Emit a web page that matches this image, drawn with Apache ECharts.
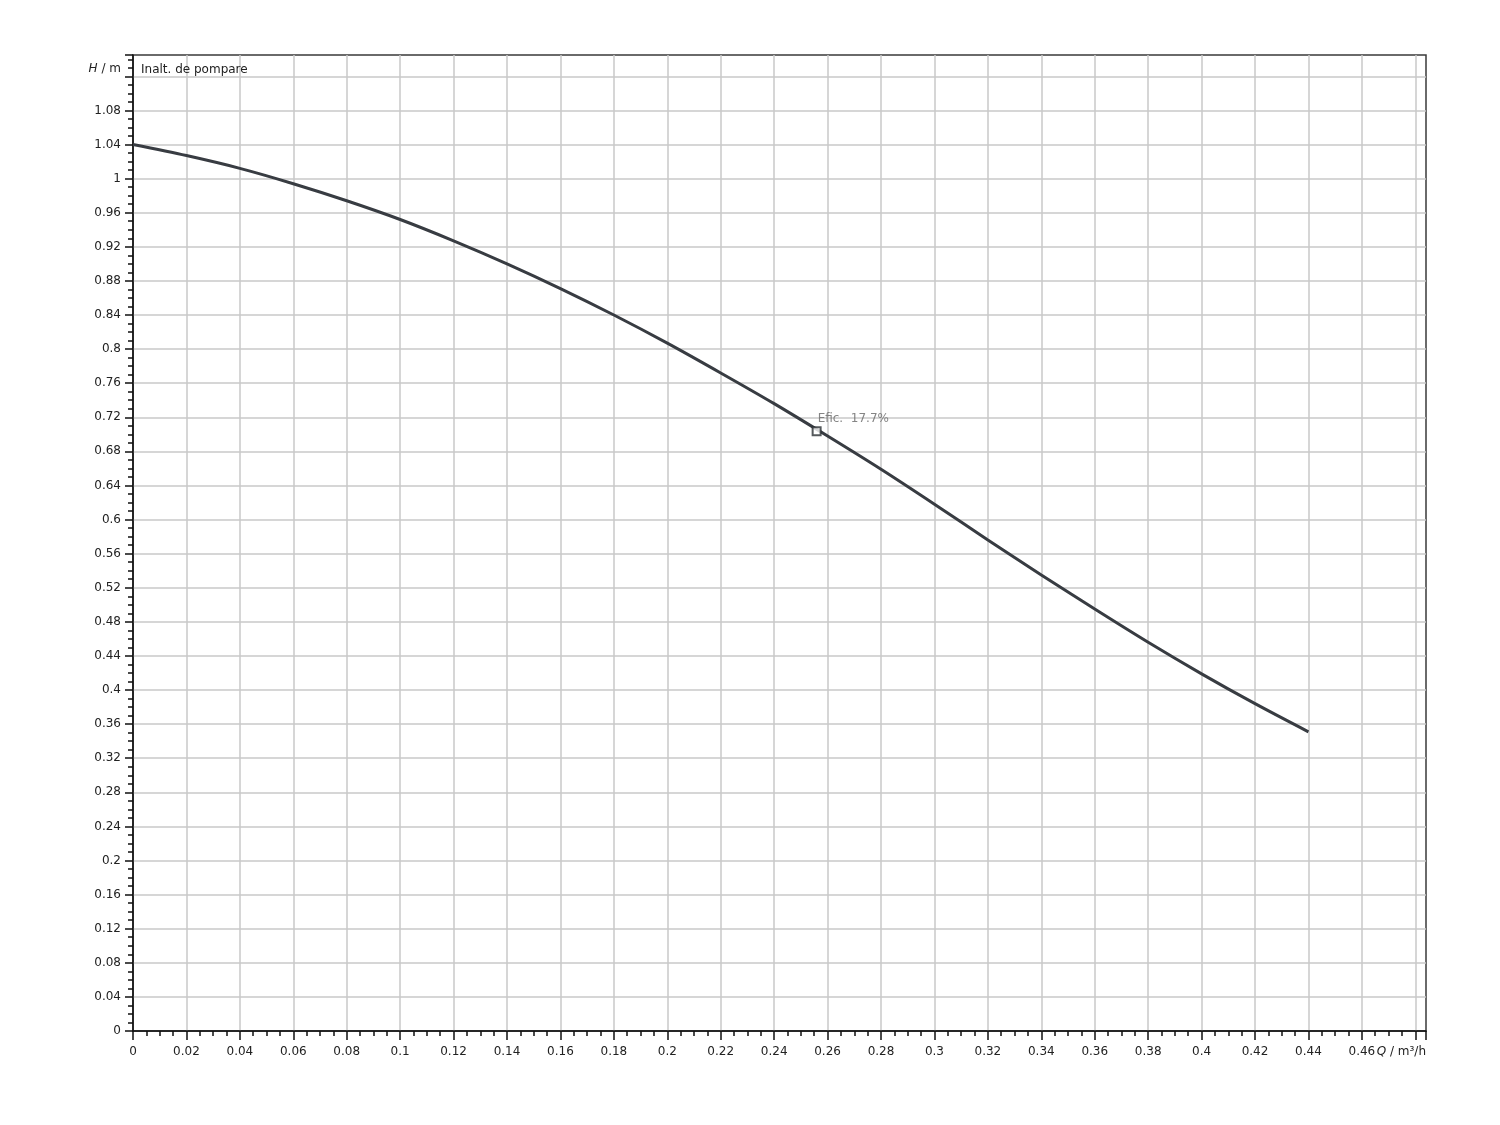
<!DOCTYPE html>
<html><head><meta charset="utf-8">
<script src="https://cdn.jsdelivr.net/npm/echarts@6/dist/echarts.min.js"></script>
<style>html,body{margin:0;padding:0;background:#fff}#c{width:1500px;height:1125px}</style>
</head><body><div id="c"></div>
<script>
// Flow rate Q (m³/h) and pump head H (m)
const flowQ = [0, 0.02, 0.04, 0.06, 0.08, 0.10, 0.12, 0.14, 0.16, 0.18, 0.20, 0.22,
               0.24, 0.26, 0.28, 0.30, 0.32, 0.34, 0.36, 0.38, 0.40, 0.42, 0.44];
const headH = [1.040, 1.027, 1.012, 0.994, 0.974, 0.952, 0.927, 0.900, 0.871, 0.840, 0.807, 0.772,
               0.736, 0.698, 0.659, 0.618, 0.576, 0.535, 0.495, 0.456, 0.419, 0.384, 0.351];
// Operating point
const effPoint = [0.2559, 0.7036];
const effLabel = 'Efic.  17.7%';
const curveTitle = 'Inalt. de pompare';
// Axis settings
const xMin = 0, xMax = 0.484, xStep = 0.02, xLastLabel = 0.46;
const yMin = 0, yMax = 1.145, yStep = 0.04, yNameTick = 1.12;

const FONT = 'DejaVu Sans';
const FS = 12;
const chart = echarts.init(document.getElementById('c'), null, {renderer: 'canvas'});
const round = v => Math.round(v * 10000) / 10000;
const isMult = (v, s) => Math.abs(v / s - Math.round(v / s)) < 1e-6;

chart.setOption({
  animation: false,
  backgroundColor: '#fff',
  title: {
    text: curveTitle, left: 141, top: 64, padding: 0,
    textStyle: {fontFamily: FONT, fontSize: FS, fontWeight: 'normal', color: '#222'}
  },
  grid: {
    left: 133, right: 74, top: 55, bottom: 94,
    show: true, borderColor: '#3a3a3a', borderWidth: 1.5,
    containLabel: false, outerBoundsMode: 'none'
  },
  xAxis: {
    type: 'value', min: xMin, max: xMax, interval: xStep,
    name: '{i|Q}{n| / m³/h}', nameLocation: 'end', nameGap: 0, nameMoveOverlap: false,
    nameTextStyle: {
      align: 'right', verticalAlign: 'top', padding: [15, 0, 0, 0],
      rich: {
        i: {fontFamily: FONT, fontSize: FS, fontStyle: 'italic', color: '#222'},
        n: {fontFamily: FONT, fontSize: FS, color: '#222'}
      }
    },
    axisLine: {show: true, onZero: false, lineStyle: {color: '#111', width: 1.5}},
    axisTick: {show: true, inside: false, length: 9, lineStyle: {color: '#111', width: 1.5}},
    minorTick: {show: true, splitNumber: 4, length: 5, lineStyle: {color: '#111', width: 1.5}},
    splitLine: {show: true, showMinLine: false, showMaxLine: false, lineStyle: {color: '#c8c8c8', width: 1.5}},
    axisLabel: {
      margin: 15, fontFamily: FONT, fontSize: FS, color: '#222', verticalAlign: 'top',
      showMaxLabel: false, hideOverlap: false,
      formatter: v => {
        const r = round(v);
        if (!isMult(r, xStep) || r > xLastLabel + 1e-6) return '';
        return String(r);
      }
    }
  },
  yAxis: {
    type: 'value', min: yMin, max: yMax, interval: yStep,
    axisLine: {show: true, onZero: false, lineStyle: {color: '#111', width: 1.5}},
    axisTick: {show: true, inside: false, length: 8, lineStyle: {color: '#111', width: 1.5}},
    minorTick: {show: true, splitNumber: 4, length: 5, lineStyle: {color: '#111', width: 1.5}},
    splitLine: {show: true, showMinLine: false, showMaxLine: false, lineStyle: {color: '#c8c8c8', width: 1.5}},
    axisLabel: {
      margin: 12, fontFamily: FONT, fontSize: FS, color: '#222',
      showMaxLabel: false, hideOverlap: false,
      rich: {
        i: {fontFamily: FONT, fontSize: FS, fontStyle: 'italic', color: '#222', padding: [0, 0, 14, 0]},
        n: {fontFamily: FONT, fontSize: FS, color: '#222', padding: [0, 0, 14, 0]}
      },
      formatter: v => {
        const r = round(v);
        if (Math.abs(r - yNameTick) < 1e-6) return '{i|H}{n| / m}';
        if (!isMult(r, yStep)) return '';
        return String(r);
      }
    }
  },
  series: [
    {
      type: 'line', data: flowQ.map((q, i) => [q, headH[i]]),
      smooth: 0.3, showSymbol: false, z: 3,
      lineStyle: {color: '#383c42', width: 3}
    },
    {
      type: 'scatter', data: [effPoint], symbol: 'rect', symbolSize: 8, z: 5,
      itemStyle: {color: '#fff', borderColor: '#2b2f33', borderWidth: 2},
      label: {
        show: true, formatter: effLabel, position: [6, -7],
        align: 'left', verticalAlign: 'middle',
        fontFamily: FONT, fontSize: FS, color: '#666'
      }
    }
  ]
});
</script></body></html>
